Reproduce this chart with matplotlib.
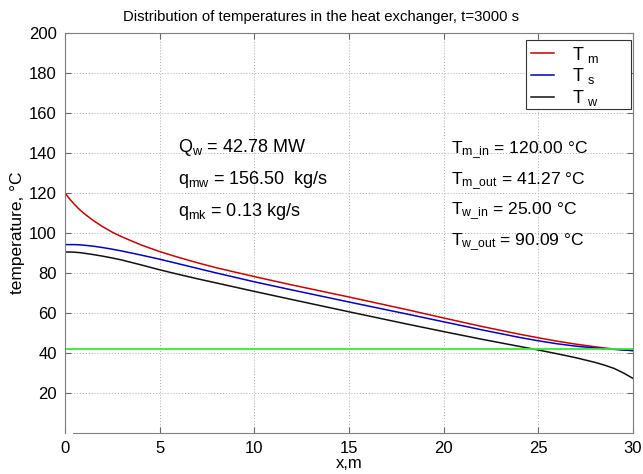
import numpy as np
import matplotlib.pyplot as plt
from matplotlib.patches import Rectangle

plt.rcParams['font.family'] = ['Liberation Sans', 'DejaVu Sans']
plt.rcParams['mathtext.fontset'] = 'custom'
plt.rcParams['mathtext.rm'] = 'Liberation Sans'

# odczyt z wykresu
x = [0, 0.25, 0.5, 0.75, 1, 1.5, 2, 2.5, 3, 4, 5, 6, 7, 8, 10, 12, 15, 18, 20, 22, 24, 25,
     26, 27, 28, 28.5, 29, 29.5, 30]
T_m = [120, 117, 114.3, 111.9, 109.8, 106.2, 103.1, 100.4, 98.1, 94.1, 90.7, 87.8, 85.1, 82.6,
       78.2, 74.0, 68.0, 61.8, 57.5, 53.3, 49.4, 47.6, 45.9, 44.4, 43.1, 42.5, 42.0, 41.6, 41.2]
T_s = [94.2, 94.2, 94.2, 94.1, 93.9, 93.4, 92.7, 91.9, 91.0, 89.0, 86.9, 84.6, 82.3, 80.0,
       75.6, 71.5, 65.5, 59.6, 55.6, 51.6, 47.8, 46.1, 44.6, 43.4, 42.5, 42.1, 41.8, 41.5, 41.2]
T_w = [90.5, 90.5, 90.4, 90.2, 89.9, 89.2, 88.4, 87.5, 86.5, 84.1, 81.6, 79.3, 77.1, 75.0,
       70.8, 66.7, 60.6, 54.6, 50.7, 46.9, 43.3, 41.5, 39.6, 37.6, 35.3, 33.9, 32.3, 30.0, 27.3]
T_zad = 42.0

opis_lewy = [r'$\mathregular{Q_w}$ = 42.78 MW',
             r'$\mathregular{q_{mw}}$ = 156.50  kg/s',
             r'$\mathregular{q_{mk}}$ = 0.13 kg/s']
opis_prawy = [r'$\mathregular{T_{m\_in}}$ = 120.00 °C',
              r'$\mathregular{T_{m\_out}}$ = 41.27 °C',
              r'$\mathregular{T_{w\_in}}$ = 25.00 °C',
              r'$\mathregular{T_{w\_out}}$ = 90.09 °C']

fig = plt.figure(figsize=(6.43, 4.74), dpi=100)
ax = fig.add_axes([65 / 643, 1 - 433 / 474, 568 / 643, 400 / 474])

ax.plot(x, T_m, color='#c80000', lw=1.1, label=r'$\mathregular{T_{\ m}}$')
ax.plot(x, T_s, color='#0000c8', lw=1.1, label=r'$\mathregular{T_{\ s}}$')
ax.plot(x, T_w, color='#111111', lw=1.1, label=r'$\mathregular{T_{\ w}}$')
ax.axhline(T_zad, color='#33ee33', lw=1.3)

ax.set_xlim(0, 30)
ax.set_ylim(0, 200)
ax.set_xticks(np.arange(0, 31, 5))
ax.set_yticks(np.arange(20, 201, 20))
ax.tick_params(direction='in', top=True, right=True, labelsize=12, length=4,
               color='#666666', pad=6)
ax.grid(True, ls=(0, (1, 2)), color='#aaaaaa', lw=0.7)
for s in ax.spines.values():
    s.set_color('#808080')
ax.spines['bottom'].set_bounds(0.4, 30)

fig.text(321 / 643, 1 - 17 / 474, 'Distribution of temperatures in the heat exchanger, t=3000 s',
         fontsize=10.7, ha='center', va='center')
ax.set_xlabel('x,m', fontsize=12, labelpad=0)
ax.set_ylabel('temperature, °C', fontsize=12.5, labelpad=3)

for i, t in enumerate(opis_lewy):
    ax.text(178 / 643, 1 - 147 / 474 - i * 32.5 / 474, t, transform=fig.transFigure,
            fontsize=13, va='center')
for i, t in enumerate(opis_prawy):
    ax.text(451 / 643, 1 - 150 / 474 - i * 30.7 / 474, t, transform=fig.transFigure,
            fontsize=12.6, va='center')

# ramka legendy szersza niz tekst (jak w matlabie)
ramka = Rectangle((526 / 643, 1 - 109 / 474), 105 / 643, 69 / 474, transform=fig.transFigure,
                  facecolor='white', edgecolor='#333333', lw=0.8, zorder=4)
ax.add_artist(ramka)
ramka.set_clip_on(False)
leg = ax.legend(loc='upper left', bbox_to_anchor=(527 / 643, 1 - 41 / 474),
                bbox_transform=fig.transFigure, borderaxespad=0,
                fontsize=13, frameon=False, handlelength=1.3, labelspacing=0.1,
                handletextpad=1.0, borderpad=0.2)
leg.set_zorder(5)

fig.savefig('out.png', dpi=100)
